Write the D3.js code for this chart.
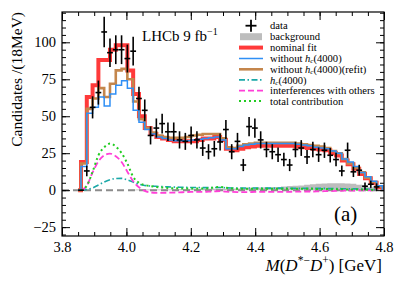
<!DOCTYPE html>
<html>
<head>
<meta charset="utf-8">
<script src="https://cdn.jsdelivr.net/npm/d3@7"></script>
<style>
  body { margin: 0; background: #fff; }
  svg text { font-family: "Liberation Serif", "DejaVu Serif", serif; fill: #000; }
</style>
</head>
<body>
<svg></svg>
<script>
// binning: 18 MeV bins starting at 3.85 GeV
const binStart = 3.85
const binWidth = 0.018
const nBins = 52

// data points (candidates per bin)
const dataVals = [0, 13, 56, 66, 107, 93, 95, 95, 89, 94, 62, 54, 37, 42, 45, 39.5, 39.5, 34, 33, 37,
  34, 28.5, 26, 28, 32.6, 41, 26, 33, 17, 43, 42, 34, 27.5, 26, 24, 20.7, 17, 27.5, 28.5, 22.5,
  27.5, 24, 27, 23.6, 20.7, 13, 27, 12.4, 13.5, 2.7, 4, 2.2]

// fit curves (step levels, one per bin)
const nominalFit = [19, 63, 71, 88, 88, 95, 98, 98, 81, 65, 50, 42, 38, 36, 35, 34, 33, 33, 33, 33,
  34, 35, 35, 36, 34, 28, 27, 28, 29, 29.5, 30, 30, 30, 30, 30, 30, 30, 29.5, 29, 28.5,
  28, 27.5, 27, 25, 23.5, 20, 17.5, 14.5, 11, 8, 5, 2]
const withoutHc = [16, 52, 56, 63, 57, 65, 71, 74, 69, 54, 46, 41, 38, 36, 35, 34, 33.5, 33.5, 33.5, 34,
  34.5, 35, 35.5, 36, 34, 28, 28, 29.5, 30.5, 31, 31.5, 31.5, 31.5, 31.5, 31.5, 31.5, 31.5, 31, 30.5, 30,
  29, 28.5, 28, 26.5, 25, 21, 19, 16, 12, 9, 6, 3]
const withoutHcRefit = [18, 55, 62, 69, 63, 72, 81, 82, 75, 60, 48, 42, 39, 37, 36, 35.5, 35.5, 35.5, 36, 37,
  37.5, 38, 38, 38, 35, 29, 28.5, 30, 31, 31.5, 32, 32, 32, 32, 32, 32, 32, 31.5, 31, 30.5,
  30, 29.5, 28.5, 26.5, 25, 21, 18, 15, 12, 8.5, 5.5, 2.5]

// components (smooth, at bin centres)
const hcComp = [0, 0.5, 1.5, 3.5, 5.5, 7, 7.9, 8, 7, 5.5, 4, 3.2, 2.8, 2.6, 2.4, 2.2, 2.1, 2, 1.9, 1.8,
  1.8, 1.7, 1.7, 1.8, 1.8, 1.6, 1.5, 1.5, 1.5, 1.5, 1.5, 1.4, 1.4, 1.4, 1.4, 1.4, 1.3, 1.3, 1.3, 1.3,
  1.2, 1.2, 1.2, 1.1, 1.1, 1, 1, 0.9, 0.8, 0.7, 0.6, 0.5]
const interference = [0, 3, 12, 19.5, 23.5, 24.7, 23, 19, 12.5, 6, 2, -0.5, -1.5, -1.8, -1.8, -1.7, -1.6, -1.5, -1.3, -1.2,
  -1.2, -1.2, -1, -0.8, -0.6, -1, -1.2, -1.3, -1.3, -1.3, -1.2, -1.2, -1.2, -1.2, -1.2, -1.2, -1.1, -1, -1, -0.9,
  -0.9, -0.8, -0.7, -0.6, -0.5, -0.4, -0.3, -0.3, -0.2, -0.2, -0.1, 0]
const totalContrib = [0, 3, 12.5, 23.5, 29, 31.5, 29.5, 25, 18, 9, 5, 3.5, 2.8, 2.2, 1.8, 1.5, 1.3, 1.2, 1.1, 1.1,
  1.1, 1.1, 1.3, 1.8, 2.2, 1.6, 1.2, 1, 1, 1, 1, 0.9, 0.9, 0.9, 0.9, 0.9, 0.9, 0.9, 0.9, 0.9,
  0.9, 0.8, 0.8, 0.7, 0.7, 0.6, 0.5, 0.5, 0.4, 0.3, 0.2, 0.1]
const background = [0, 0, 0, 0, 0, 0, 0, 0, 0, 0.3, 0.5, 0.5, 0.5, 0.5, 0.5, 0.5, 0.5, 0.6, 0.6, 0.7,
  0.8, 0.9, 1, 1, 1, 1, 1, 1.2, 1.4, 1.6, 1.8, 1.8, 2, 2, 2.2, 2.4, 2.8, 3, 3.2, 3.6,
  4, 4.4, 4.5, 4.6, 4.6, 4.6, 4.5, 4.3, 3.6, 2.8, 2, 1.4]

const xTicks = [3.8, 4.0, 4.2, 4.4, 4.6, 4.8]
const yTicks = [-25, 0, 25, 50, 75, 100]

const legendItems = ['data', 'background', 'nominal fit', 'without hc(4000)', 'without hc(4000)(refit)',
  'hc(4000)', 'interferences with others', 'total contribution']

let width = 407
let height = 287
let padL = 62, padR = 384, padT = 12, padB = 236

let svg = d3.select('svg').attr('width', width).attr('height', height)

const xScale = d3.scaleLinear().domain([3.8, 4.8]).range([padL, padR])
const yScale = d3.scaleLinear().domain([-31, 120.5]).range([padB, padT])

const centers = d3.range(nBins).map(k => binStart + binWidth * (k + 0.5))

svg.append('clipPath').attr('id', 'clip')
  .append('rect').attr('x', padL).attr('y', padT).attr('width', padR - padL).attr('height', padB - padT)

const plot = svg.append('g').attr('clip-path', 'url(#clip)')

// background filled histogram
const bgPts = []
background.forEach((v, k) => {
  bgPts.push([binStart + binWidth * k, v])
  bgPts.push([binStart + binWidth * (k + 1), v])
})
plot.append('path')
  .datum(bgPts)
  .attr('fill', '#bdbdbd')
  .attr('d', d3.area().x(d => xScale(d[0])).y0(yScale(0)).y1(d => yScale(d[1])))

// zero line
plot.append('line')
  .attr('x1', padL).attr('x2', padR)
  .attr('y1', yScale(0)).attr('y2', yScale(0))
  .attr('stroke', '#8c8c8c').attr('stroke-width', 2).attr('stroke-dasharray', '7,4')

// step curves for the fits
const stepLine = d3.line().x(d => xScale(d[0])).y(d => yScale(d[1])).curve(d3.curveStepAfter)
const stepPts = arr => {
  const pts = [[binStart, 0]]
  arr.forEach((v, k) => pts.push([centers[k], v]))
  pts.push([centers[nBins - 1] + binWidth, 0])
  return pts
}

plot.append('path').datum(stepPts(nominalFit))
  .attr('fill', 'none').attr('stroke', '#ff3a3a').attr('stroke-width', 4).attr('d', stepLine)
plot.append('path').datum(stepPts(withoutHcRefit))
  .attr('fill', 'none').attr('stroke', '#c4864c').attr('stroke-width', 2.6).attr('d', stepLine)
plot.append('path').datum(stepPts(withoutHc))
  .attr('fill', 'none').attr('stroke', '#2f8ff5').attr('stroke-width', 1.5).attr('d', stepLine)

// smooth components
const smooth = d3.line().x((d, i) => xScale(centers[i])).y(d => yScale(d)).curve(d3.curveMonotoneX)

plot.append('path').datum(hcComp)
  .attr('fill', 'none').attr('stroke', '#1aa8a8').attr('stroke-width', 1.6)
  .attr('stroke-dasharray', '6,2.5,1.5,2.5').attr('d', smooth)
plot.append('path').datum(interference)
  .attr('fill', 'none').attr('stroke', '#ff3fd8').attr('stroke-width', 1.8)
  .attr('stroke-dasharray', '6,3').attr('d', smooth)
plot.append('path').datum(totalContrib)
  .attr('fill', 'none').attr('stroke', '#22cc22').attr('stroke-width', 2)
  .attr('stroke-dasharray', '2,3').attr('d', smooth)

// data points with error bars
const errOf = d => d > 0 ? Math.sqrt(Math.max(d, 6)) : 0
const pts = plot.append('g').selectAll('g').data(dataVals).enter().append('g')
pts.append('line')
  .attr('x1', (d, i) => xScale(centers[i] - binWidth / 2))
  .attr('x2', (d, i) => xScale(centers[i] + binWidth / 2))
  .attr('y1', d => yScale(d)).attr('y2', d => yScale(d))
  .attr('stroke', '#000').attr('stroke-width', 1.6)
pts.append('line')
  .attr('x1', (d, i) => xScale(centers[i])).attr('x2', (d, i) => xScale(centers[i]))
  .attr('y1', d => yScale(d - errOf(d)))
  .attr('y2', d => yScale(d + errOf(d)))
  .attr('stroke', '#000').attr('stroke-width', 1.6)

// axes with inward ticks on all four sides
const fmtX = d3.format('.1f')
const minorX = d3.range(3.8, 4.8001, 0.05)
const minorY = d3.range(-30, 121, 5)

const addAxis = (axis, tr) => {
  const g = svg.append('g').attr('transform', tr).call(axis)
  g.select('.domain').remove()
  g.selectAll('line').attr('stroke', '#000').attr('stroke-width', 1)
  return g
}

addAxis(d3.axisBottom(xScale).tickValues(minorX).tickSize(-4).tickFormat(''), `translate(0,${padB})`)
addAxis(d3.axisTop(xScale).tickValues(minorX).tickSize(-4).tickFormat(''), `translate(0,${padT})`)
addAxis(d3.axisLeft(yScale).tickValues(minorY).tickSize(-4).tickFormat(''), `translate(${padL},0)`)
addAxis(d3.axisRight(yScale).tickValues(minorY).tickSize(-4).tickFormat(''), `translate(${padR},0)`)

const gx = addAxis(d3.axisBottom(xScale).tickValues(xTicks).tickSize(-8).tickPadding(6).tickFormat(fmtX), `translate(0,${padB})`)
gx.selectAll('text').attr('font-size', 14.5).attr('font-family', 'Liberation Serif')
addAxis(d3.axisTop(xScale).tickValues(xTicks).tickSize(-8).tickFormat(''), `translate(0,${padT})`)
const gy = addAxis(d3.axisLeft(yScale).tickValues(yTicks).tickSize(-8).tickPadding(6), `translate(${padL},0)`)
gy.selectAll('text').attr('font-size', 14.5).attr('font-family', 'Liberation Serif')
addAxis(d3.axisRight(yScale).tickValues(yTicks).tickSize(-8).tickFormat(''), `translate(${padR},0)`)

svg.append('rect')
  .attr('x', padL).attr('y', padT).attr('width', padR - padL).attr('height', padB - padT)
  .attr('fill', 'none').attr('stroke', '#000').attr('stroke-width', 1.2)

// axis titles
svg.append('text')
  .attr('transform', `translate(22,${padT}) rotate(-90)`)
  .attr('text-anchor', 'end').attr('font-size', 15.5)
  .text('Candidates /(18MeV)')

const xt = svg.append('text').attr('x', padR - 2).attr('y', 271)
  .attr('text-anchor', 'end').attr('font-size', 17)
xt.append('tspan').attr('font-style', 'italic').text('M')
xt.append('tspan').text('(')
xt.append('tspan').attr('font-style', 'italic').text('D')
xt.append('tspan').attr('font-size', 11.5).attr('dy', -7).text('*−')
xt.append('tspan').attr('font-style', 'italic').attr('dy', 7).text('D')
xt.append('tspan').attr('font-size', 11.5).attr('dy', -7).text('+')
xt.append('tspan').attr('dy', 7).text(') [GeV]')

// LHCb label
const lt = svg.append('text').attr('x', 142).attr('y', 41).attr('font-size', 15)
lt.append('tspan').text('LHCb 9 fb')
lt.append('tspan').attr('font-size', 10).attr('dy', -6).text('−1')

svg.append('text').attr('x', 334).attr('y', 221).attr('font-size', 21).text('(a)')

// legend
const legX = 239, legW = 24, legTextX = 270
const legY = [25.7, 36.7, 47.6, 58.5, 69.3, 79.9, 90.7, 101]
const legend = svg.append('g')

legend.append('line').attr('x1', 245.5).attr('x2', 256.5).attr('y1', legY[0]).attr('y2', legY[0])
  .attr('stroke', '#000').attr('stroke-width', 1.8)
legend.append('line').attr('x1', 251).attr('x2', 251).attr('y1', legY[0] - 6).attr('y2', legY[0] + 6)
  .attr('stroke', '#000').attr('stroke-width', 1.8)
legend.append('rect').attr('x', legX + 1).attr('y', legY[1] - 3.5).attr('width', legW - 2).attr('height', 7)
  .attr('fill', '#bdbdbd')

const legLines = [
  { i: 2, color: '#ff3a3a', w: 4, dash: null },
  { i: 3, color: '#2f8ff5', w: 1.5, dash: null },
  { i: 4, color: '#c4864c', w: 2.6, dash: null },
  { i: 5, color: '#1aa8a8', w: 1.6, dash: '6,2.5,1.5,2.5' },
  { i: 6, color: '#ff3fd8', w: 1.8, dash: '6,3' },
  { i: 7, color: '#22cc22', w: 2, dash: '2,3' }
]
legLines.forEach(l => {
  legend.append('line').attr('x1', legX).attr('x2', legX + legW)
    .attr('y1', legY[l.i]).attr('y2', legY[l.i])
    .attr('stroke', l.color).attr('stroke-width', l.w)
    .attr('stroke-dasharray', l.dash)
})

legendItems.forEach((name, i) => {
  const t = legend.append('text').attr('x', legTextX).attr('y', legY[i] + 3.6).attr('font-size', 10.6)
  const m = name.match(/^(.*?)hc\(4000\)(.*)$/)
  if (m) {
    t.append('tspan').text(m[1])
    t.append('tspan').attr('font-style', 'italic').text('h')
    t.append('tspan').attr('font-style', 'italic').attr('font-size', 7).attr('dy', 1).text('c')
    t.append('tspan').attr('dy', -1).text('(4000)' + m[2])
  } else {
    t.text(name)
  }
})
</script>
</body>
</html>
